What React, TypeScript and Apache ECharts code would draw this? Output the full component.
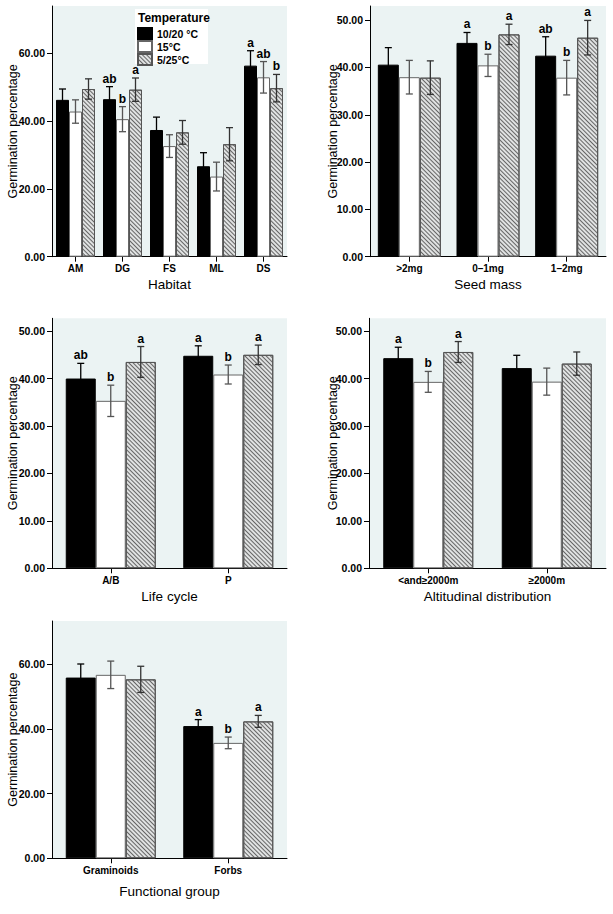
import React, { useEffect, useRef } from 'react';
import * as echarts from 'echarts';

const temps = ['10/20 °C', '15°C', '5/25°C'];

// Habitat
const habitatCats = ['AM', 'DG', 'FS', 'ML', 'DS'];
const habitat1020 = [46.3, 46.5, 37.4, 26.7, 56.4];
const habitat15 = [42.85, 40.6, 32.65, 23.65, 52.95];
const habitat525 = [49.5, 49.3, 36.7, 33.2, 49.75];
const habitatErr1020 = [3.2, 3.7, 3.8, 4.0, 4.4];
const habitatErr15 = [3.45, 3.7, 3.35, 4.25, 4.65];
const habitatErr525 = [3.0, 3.45, 3.5, 4.9, 4.05];
const habitatLet1020 = ['', 'ab', '', '', 'a'];
const habitatLet15 = ['', 'b', '', '', 'ab'];
const habitatLet525 = ['', 'a', '', '', 'b'];

// Seed mass
const seedCats = ['>2mg', '0–1mg', '1–2mg'];
const seed1020 = [40.6, 45.2, 42.5];
const seed15 = [37.95, 40.45, 37.85];
const seed525 = [37.85, 47.0, 46.3];
const seedErr1020 = [3.6, 2.2, 4.0];
const seedErr15 = [3.55, 2.35, 3.65];
const seedErr525 = [3.55, 2.15, 3.65];
const seedLet1020 = ['', 'a', 'ab'];
const seedLet15 = ['', 'b', 'b'];
const seedLet525 = ['', 'a', 'a'];

// Life cycle
const lifeCats = ['A/B', 'P'];
const life1020 = [40.0, 44.8];
const life15 = [35.3, 40.85];
const life525 = [43.5, 45.0];
const lifeErr1020 = [3.2, 2.1];
const lifeErr15 = [3.3, 2.0];
const lifeErr525 = [3.25, 2.05];
const lifeLet1020 = ['ab', 'a'];
const lifeLet15 = ['b', 'b'];
const lifeLet525 = ['a', 'a'];

// Altitudinal distribution
const altCats = ['<and≥2000m', '≥2000m'];
const alt1020 = [44.3, 42.2];
const alt15 = [39.3, 39.35];
const alt525 = [45.6, 43.15];
const altErr1020 = [2.3, 2.7];
const altErr15 = [2.2, 2.85];
const altErr525 = [2.2, 2.45];
const altLet1020 = ['a', ''];
const altLet15 = ['b', ''];
const altLet525 = ['a', ''];

// Functional group
const funcCats = ['Graminoids', 'Forbs'];
const func1020 = [55.9, 40.9];
const func15 = [56.75, 35.7];
const func525 = [55.35, 42.35];
const funcErr1020 = [4.2, 2.0];
const funcErr15 = [4.25, 1.8];
const funcErr525 = [4.05, 1.85];
const funcLet1020 = ['', 'a'];
const funcLet15 = ['', 'b'];
const funcLet525 = ['', 'a'];

const yTicks74 = [0, 20, 40, 60];
const yTicks53 = [0, 10, 20, 30, 40, 50];

const FONT = '"Liberation Sans", Arial, Helvetica, sans-serif';

const panels = [
  { name: 'Habitat', cats: habitatCats, means: [habitat1020, habitat15, habitat525], errs: [habitatErr1020, habitatErr15, habitatErr525], lets: [habitatLet1020, habitatLet15, habitatLet525], max: 74, ticks: yTicks74, left: 52, top: 6, width: 235, height: 250.7, barWidth: 13, nameGap: 21, yNameGap: 33 },
  { name: 'Seed mass', cats: seedCats, means: [seed1020, seed15, seed525], errs: [seedErr1020, seedErr15, seedErr525], lets: [seedLet1020, seedLet15, seedLet525], max: 53, ticks: yTicks53, left: 370, top: 6, width: 236, height: 250.7, barWidth: 21, nameGap: 21, yNameGap: 31 },
  { name: 'Life cycle', cats: lifeCats, means: [life1020, life15, life525], errs: [lifeErr1020, lifeErr15, lifeErr525], lets: [lifeLet1020, lifeLet15, lifeLet525], max: 52.7, ticks: yTicks53, left: 52, top: 318.3, width: 235, height: 250, barWidth: 30, nameGap: 21, yNameGap: 33 },
  { name: 'Altitudinal distribution', cats: altCats, means: [alt1020, alt15, alt525], errs: [altErr1020, altErr15, altErr525], lets: [altLet1020, altLet15, altLet525], max: 52.7, ticks: yTicks53, left: 369, top: 318.3, width: 237, height: 250, barWidth: 30, nameGap: 21, yNameGap: 30 },
  { name: 'Functional group', cats: funcCats, means: [func1020, func15, func525], errs: [funcErr1020, funcErr15, funcErr525], lets: [funcLet1020, funcLet15, funcLet525], max: 73.4, ticks: yTicks74, left: 52, top: 621, width: 235, height: 237.3, barWidth: 30, nameGap: 26, yNameGap: 33 },
];

const barStyles = [
  { color: '#000000', borderColor: '#000000', borderWidth: 1 },
  { color: '#ffffff', borderColor: '#666666', borderWidth: 1 },
  {
    color: '#e0e2e2', borderColor: '#555555', borderWidth: 1,
    decal: { symbol: 'rect', symbolSize: 1, dashArrayX: [1, 0], dashArrayY: [1, 1.3], rotation: Math.PI / 4, color: '#666666' },
  },
];
const errColors = ['#000000', '#555555', '#333333'];

export default function App() {
  const ref = useRef<HTMLDivElement>(null);
  useEffect(() => {
    if (!ref.current) return;
    const chart = echarts.init(ref.current, null, { renderer: 'svg' });
    const grids: any[] = [];
    const xAxes: any[] = [];
    const yAxes: any[] = [];
    const series: any[] = [];
    panels.forEach((p, pi) => {
      grids.push({ left: p.left, top: p.top, width: p.width, height: p.height, show: true, backgroundColor: '#ebf3f3', borderWidth: 0, containLabel: false });
      xAxes.push({
        type: 'category', gridIndex: pi, data: p.cats,
        name: p.name, nameLocation: 'middle', nameGap: p.nameGap, nameMoveOverlap: false,
        nameTextStyle: { fontSize: 13.5, color: '#000', fontFamily: FONT },
        axisLine: { lineStyle: { color: '#000', width: 1 } },
        axisTick: { show: true, alignWithLabel: true, length: 5, lineStyle: { color: '#000' } },
        axisLabel: { fontSize: 10, fontWeight: 'bold', color: '#000', margin: 7, fontFamily: FONT, interval: 0 },
        splitLine: { show: false },
      });
      yAxes.push({
        type: 'value', gridIndex: pi, min: 0, max: p.max,
        name: 'Germination percentage', nameLocation: 'middle', nameGap: p.yNameGap, nameMoveOverlap: false,
        nameTextStyle: { fontSize: 12.5, color: '#000', fontFamily: FONT },
        axisLine: { show: true, lineStyle: { color: '#000', width: 1 } },
        axisTick: { show: true, length: 5, lineStyle: { color: '#000' }, customValues: p.ticks },
        axisLabel: { fontSize: 10.5, fontWeight: 'bold', color: '#000', margin: 7, fontFamily: FONT, customValues: p.ticks, formatter: (v: number) => v.toFixed(2) },
        splitLine: { show: false },
      });
      for (let k = 0; k < 3; k++) {
        series.push({
          type: 'bar', name: temps[k], xAxisIndex: pi, yAxisIndex: pi,
          data: p.means[k], barWidth: p.barWidth, barGap: '0%',
          itemStyle: barStyles[k], z: 2,
        });
        const offset = (k - 1) * p.barWidth;
        const lets = p.lets[k];
        const col = errColors[k];
        series.push({
          type: 'custom', name: 'err' + pi + '_' + k, xAxisIndex: pi, yAxisIndex: pi, z: 5,
          data: p.means[k].map((m, i) => [i, m, p.errs[k][i]]),
          encode: { x: 0, y: 1 },
          renderItem: (params: any, api: any) => {
            const idx = api.value(0);
            const mean = api.value(1);
            const err = api.value(2);
            const c = api.coord([idx, mean]);
            const x = c[0] + offset;
            const top = api.coord([idx, mean + err])[1];
            const bot = api.coord([idx, mean - err])[1];
            const cw = 3.5;
            const st = { stroke: col, lineWidth: 1.3 };
            const children: any[] = [
              { type: 'line', shape: { x1: x, y1: top, x2: x, y2: bot }, style: st },
              { type: 'line', shape: { x1: x - cw, y1: top, x2: x + cw, y2: top }, style: st },
              { type: 'line', shape: { x1: x - cw, y1: bot, x2: x + cw, y2: bot }, style: st },
            ];
            const letter = lets[params.dataIndex];
            if (letter) {
              children.push({ type: 'text', style: { text: letter, x, y: top - 2, align: 'center', verticalAlign: 'bottom', font: 'bold 12px ' + FONT, fill: '#000' } });
            }
            return { type: 'group', children };
          },
        });
      }
    });
    chart.setOption({
      animation: false,
      textStyle: { fontFamily: FONT },
      grid: grids,
      xAxis: xAxes,
      yAxis: yAxes,
      series,
      legend: {
        data: temps, orient: 'vertical', left: 137, top: 27, itemWidth: 14, itemHeight: 11, itemGap: 0, padding: 0,
        selectedMode: false, icon: 'rect', z: 20,
        textStyle: { fontSize: 10.5, fontWeight: 'bold', color: '#000', fontFamily: FONT },
      },
      graphic: [
        { type: 'rect', shape: { x: 135, y: 9, width: 73, height: 55 }, style: { fill: '#ffffff' }, z: 10 },
        { type: 'text', x: 138, y: 12, style: { text: 'Temperature', font: 'bold 12px ' + FONT, fill: '#000' }, z: 21 },
      ],
    });
    return () => chart.dispose();
  }, []);
  return <div ref={ref} style={{ position: 'absolute', left: 0, top: 0, width: 613, height: 914 }} />;
}
